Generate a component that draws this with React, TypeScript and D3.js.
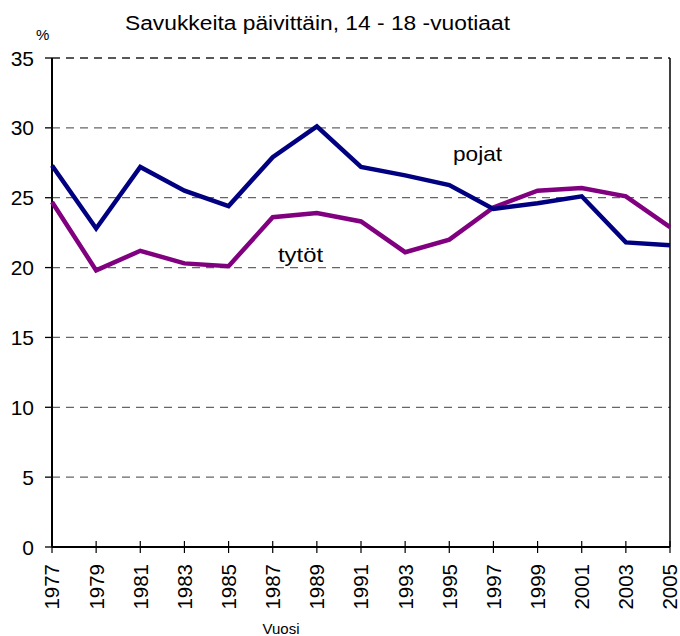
import React from "react";
import * as d3 from "d3";

const years = [1977, 1979, 1981, 1983, 1985, 1987, 1989, 1991, 1993, 1995, 1997, 1999, 2001, 2003, 2005];
const pojat = [27.3, 22.8, 27.2, 25.5, 24.4, 27.9, 30.1, 27.2, 26.6, 25.9, 24.2, 24.6, 25.1, 21.8, 21.6];
const tytot = [24.7, 19.8, 21.2, 20.3, 20.1, 23.6, 23.9, 23.3, 21.1, 22.0, 24.3, 25.5, 25.7, 25.1, 22.9];
const yTicks = [0, 5, 10, 15, 20, 25, 30, 35];

const W = 680;
const H = 636;
const left = 52;
const right = 670;
const top = 58;
const bottom = 547;
const font = "Arial, 'Liberation Sans', sans-serif";

export default function App() {
  const x = d3.scaleLinear().domain([1977, 2005]).range([left, right]);
  const y = d3.scaleLinear().domain([0, 35]).range([bottom, top]);

  const line = d3
    .line<number>()
    .x((_, i) => x(years[i]))
    .y((d) => y(d));

  return (
    <svg width={W} height={H} style={{ position: "absolute", left: 0, top: 0, background: "#fff" }}>
      <text x={125} y={30} fontFamily={font} fontSize={20} textLength={385} lengthAdjust="spacingAndGlyphs">
        Savukkeita päivittäin, 14 - 18 -vuotiaat
      </text>
      <text x={36} y={40} fontFamily={font} fontSize={15}>%</text>

      {/* grid */}
      {yTicks.filter((t) => t > 0).map((t) => (
        <line
          key={t}
          x1={left}
          x2={right}
          y1={y(t)}
          y2={y(t)}
          stroke={t === 35 ? "#222" : "#666"}
          strokeWidth={1.3}
          strokeDasharray="8 6"
        />
      ))}
      <line x1={right} x2={right} y1={top} y2={bottom} stroke="#000" strokeWidth={1.5} />

      {/* y axis */}
      <line x1={left} x2={left} y1={top} y2={bottom} stroke="#000" strokeWidth={2} />
      {yTicks.map((t) => (
        <g key={t}>
          <line x1={left - 7} x2={left} y1={y(t)} y2={y(t)} stroke="#000" strokeWidth={1.3} />
          <text
            x={34}
            y={y(t)}
            dy="0.36em"
            textAnchor="end"
            fontFamily={font}
            fontSize={21}
          >
            {t}
          </text>
        </g>
      ))}

      {/* x axis */}
      <line x1={left} x2={right} y1={bottom} y2={bottom} stroke="#000" strokeWidth={2} />
      {years.map((yr) => (
        <g key={yr}>
          <line x1={x(yr)} x2={x(yr)} y1={bottom - 6} y2={bottom + 6} stroke="#000" strokeWidth={1.2} />
          <text
            transform={`translate(${x(yr)},${564}) rotate(-90)`}
            dy="0.36em"
            textAnchor="end"
            fontFamily={font}
            fontSize={20.5}
          >
            {yr}
          </text>
        </g>
      ))}
      <text x={281} y={634} textAnchor="middle" fontFamily={font} fontSize={15}>Vuosi</text>

      {/* series */}
      <path d={line(tytot) ?? ""} fill="none" stroke="#800080" strokeWidth={4.5} strokeLinejoin="miter" />
      <path d={line(pojat) ?? ""} fill="none" stroke="#000080" strokeWidth={4.5} strokeLinejoin="miter" />

      <text x={453} y={161} fontFamily={font} fontSize={21} textLength={49} lengthAdjust="spacingAndGlyphs">pojat</text>
      <text x={278} y={262} fontFamily={font} fontSize={21} textLength={45} lengthAdjust="spacingAndGlyphs">tytöt</text>
    </svg>
  );
}
